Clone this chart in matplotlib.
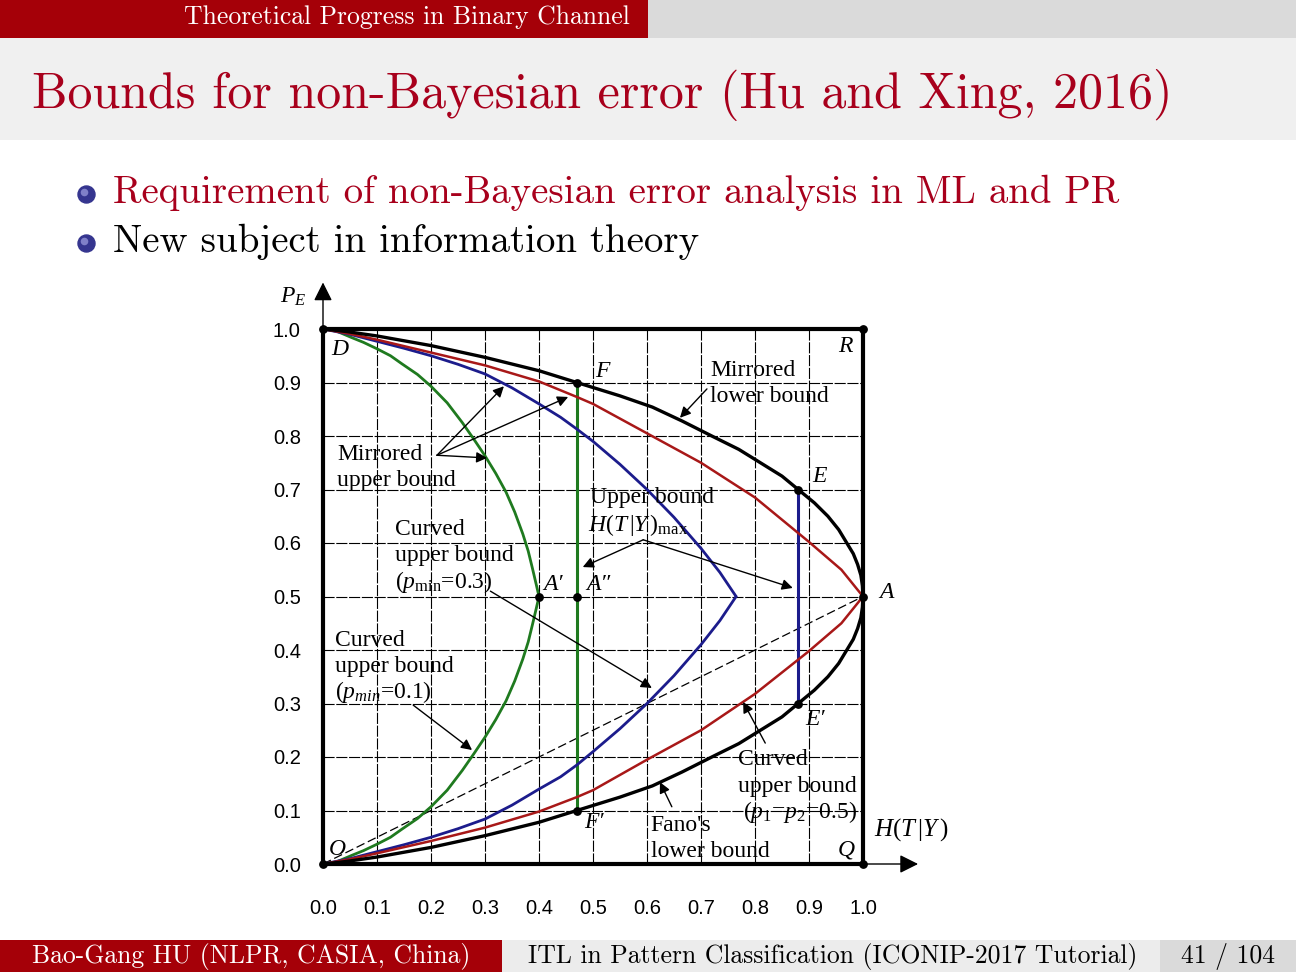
import numpy as np
import matplotlib.pyplot as plt
from matplotlib.patches import Rectangle

plt.rcParams['mathtext.fontset'] = 'custom'
plt.rcParams['mathtext.rm'] = 'Liberation Serif'
plt.rcParams['mathtext.it'] = 'Liberation Serif:italic'

# values (x = H(T|Y), y = P_E)
fano_x = [0.0, 0.02, 0.045, 0.1, 0.15, 0.2, 0.3, 0.4, 0.47, 0.55, 0.61, 0.665, 0.72, 0.77,
          0.81, 0.85, 0.88, 0.91, 0.935, 0.955, 0.97, 0.982, 0.99, 0.996, 0.999, 1.0]
fano_y = [0.0, 0.002, 0.005, 0.013, 0.022, 0.031, 0.053, 0.078, 0.1, 0.125, 0.146, 0.172, 0.2, 0.225,
          0.25, 0.275, 0.3, 0.325, 0.35, 0.375, 0.4, 0.42, 0.44, 0.46, 0.48, 0.5]
mir_low_y = [1.0, 0.998, 0.995, 0.987, 0.978, 0.969, 0.947, 0.922, 0.9, 0.875, 0.854, 0.828, 0.8, 0.775,
             0.75, 0.725, 0.7, 0.675, 0.65, 0.625, 0.6, 0.58, 0.56, 0.54, 0.52, 0.5]

red_x = [0.0, 0.05, 0.1, 0.2, 0.3, 0.4, 0.47, 0.5, 0.6, 0.7, 0.8, 0.9, 0.96, 1.0]
red_low_y = [0.0, 0.009, 0.02, 0.043, 0.068, 0.098, 0.125, 0.138, 0.195, 0.25, 0.318, 0.398, 0.45, 0.5]
red_up_y = [1.0, 0.991, 0.98, 0.956, 0.932, 0.902, 0.873, 0.86, 0.805, 0.75, 0.685, 0.602, 0.55, 0.5]

blue_low_x = [0.0, 0.05, 0.1, 0.15, 0.2, 0.25, 0.3, 0.35, 0.4, 0.44, 0.47, 0.5, 0.55, 0.6, 0.65, 0.7, 0.735, 0.765]
blue_low_y = [0.0, 0.01, 0.023, 0.036, 0.05, 0.066, 0.084, 0.11, 0.14, 0.163, 0.185, 0.21, 0.253, 0.3, 0.352, 0.41, 0.455, 0.5]
blue_up_x = [0.0, 0.05, 0.1, 0.15, 0.2, 0.25, 0.3, 0.35, 0.4, 0.44, 0.47, 0.5, 0.55, 0.6, 0.65, 0.7, 0.735, 0.765]
blue_up_y = [1.0, 0.99, 0.977, 0.964, 0.95, 0.934, 0.916, 0.89, 0.86, 0.835, 0.813, 0.79, 0.747, 0.7, 0.648, 0.59, 0.545, 0.5]

green_x = [0.0, 0.025, 0.053, 0.075, 0.1, 0.125, 0.146, 0.175, 0.2, 0.23, 0.258, 0.28, 0.3,
           0.32, 0.339, 0.355, 0.37, 0.38, 0.388, 0.395, 0.4]
green_up_y = [1.0, 0.996, 0.984, 0.975, 0.963, 0.95, 0.935, 0.915, 0.893, 0.862, 0.825, 0.793, 0.763,
              0.73, 0.695, 0.658, 0.617, 0.585, 0.552, 0.522, 0.5]
green_low_y = [0.0, 0.004, 0.016, 0.025, 0.037, 0.05, 0.065, 0.085, 0.107, 0.138, 0.175, 0.207, 0.237,
               0.27, 0.305, 0.342, 0.383, 0.415, 0.448, 0.478, 0.5]

green_seg_x = [0.47, 0.47]
green_seg_y = [0.1, 0.9]
blue_seg_x = [0.88, 0.88]
blue_seg_y = [0.3, 0.7]
dash_x = [0.0, 1.0]
dash_y = [0.0, 0.5]

pt_names = ['D', 'R', 'F', 'E', 'A', 'A\u2032', 'A\u2033', 'E\u2032', 'F\u2032', 'O', 'Q']
pt_x = [0.0, 1.0, 0.47, 0.88, 1.0, 0.4, 0.47, 0.88, 0.47, 0.0, 1.0]
pt_y = [1.0, 1.0, 0.9, 0.7, 0.5, 0.5, 0.5, 0.3, 0.1, 0.0, 0.0]
lbl_x = [0.031, 0.967, 0.517, 0.92, 1.043, 0.426, 0.51, 0.911, 0.502, 0.026, 0.969]
lbl_y = [0.962, 0.967, 0.92, 0.725, 0.507, 0.522, 0.522, 0.27, 0.078, 0.027, 0.027]

ticks = [0.0, 0.1, 0.2, 0.3, 0.4, 0.5, 0.6, 0.7, 0.8, 0.9, 1.0]
tick_labels = ['0.0', '0.1', '0.2', '0.3', '0.4', '0.5', '0.6', '0.7', '0.8', '0.9', '1.0']

RED = '#a8001c'
GREEN = '#1f7a1f'
BLUE = '#1c1c8c'
CRED = '#a81818'

fig = plt.figure(figsize=(12.96, 9.72), dpi=100)

# slide decoration in pixel coordinates
bg = fig.add_axes([0, 0, 1, 1])
bg.set_xlim(0, 1296)
bg.set_ylim(972, 0)
bg.axis('off')
bg.add_patch(Rectangle((0, 0), 1296, 140, color='#f0f0f0', lw=0))
bg.add_patch(Rectangle((648, 0), 648, 38, color='#dadada', lw=0))
bg.add_patch(Rectangle((0, 0), 648, 38, color='#a50008', lw=0))
bg.add_patch(Rectangle((0, 940), 502, 32, color='#a50008', lw=0))
bg.add_patch(Rectangle((502, 940), 658, 32, color='#ececec', lw=0))
bg.add_patch(Rectangle((1160, 940), 136, 32, color='#dadada', lw=0))

slide_font = 'cmr10'
bg.text(630, 17, 'Theoretical Progress in Binary Channel', color='white',
        family=slide_font, fontsize=18.5, ha='right', va='center')
bg.text(32, 95, 'Bounds for non-Bayesian error (Hu and Xing, 2016)', color=RED,
        family=slide_font, fontsize=36, ha='left', va='center')
bg.scatter([86, 86], [194, 243], s=150, color='#35358f', zorder=3)
bg.scatter([84, 84], [192, 241], s=30, color='#8080c8', zorder=4, lw=0)
bg.text(113, 193, 'Requirement of non-Bayesian error analysis in ML and PR', color=RED,
        family=slide_font, fontsize=28, ha='left', va='center')
bg.text(113, 242, 'New subject in information theory', color='black',
        family=slide_font, fontsize=28, ha='left', va='center')
bg.text(32, 956, 'Bao-Gang HU (NLPR, CASIA, China)', color='white',
        family=slide_font, fontsize=18.5, ha='left', va='center')
bg.text(528, 956, 'ITL in Pattern Classification (ICONIP-2017 Tutorial)', color='black',
        family=slide_font, fontsize=18.5, ha='left', va='center')
bg.text(1275, 956, '41 / 104', color='black',
        family=slide_font, fontsize=18.5, ha='right', va='center')

# chart
ax = fig.add_axes([323 / 1296, 1 - 864 / 972, 540 / 1296, 535 / 972])
ax.set_facecolor('none')
ax.set_xlim(0, 1)
ax.set_ylim(0, 1)
ax.set_xticks(ticks)
ax.set_xticklabels(tick_labels)
ax.set_yticks(ticks)
ax.set_yticklabels(tick_labels)
ax.tick_params(length=0, labelsize=14.5)
ax.tick_params(axis='x', pad=25)
ax.tick_params(axis='y', pad=16)
for lab in ax.get_xticklabels() + ax.get_yticklabels():
    lab.set_family('Liberation Sans')
ax.grid(True, color='black', lw=0.8, ls=(0, (10, 1.5)))
ax.set_axisbelow(True)
for sp in ax.spines.values():
    sp.set_linewidth(3)

kw = dict(clip_on=False, solid_capstyle='round', solid_joinstyle='round')
ax.plot(dash_x, dash_y, color='black', lw=0.9, ls=(0, (7, 3)), clip_on=False)
ax.plot(green_x, green_up_y, color=GREEN, lw=2, **kw)
ax.plot(green_x, green_low_y, color=GREEN, lw=2, **kw)
ax.plot(green_seg_x, green_seg_y, color=GREEN, lw=2.2, **kw)
ax.plot(blue_up_x, blue_up_y, color=BLUE, lw=2, **kw)
ax.plot(blue_low_x, blue_low_y, color=BLUE, lw=2, **kw)
ax.plot(blue_seg_x, blue_seg_y, color=BLUE, lw=2.2, **kw)
ax.plot(red_x, red_up_y, color=CRED, lw=1.8, **kw)
ax.plot(red_x, red_low_y, color=CRED, lw=1.8, **kw)
ax.plot(fano_x, fano_y, color='black', lw=2.4, **kw)
ax.plot(fano_x, mir_low_y, color='black', lw=2.4, **kw)
ax.scatter(pt_x, pt_y, s=28, color='black', zorder=5, clip_on=False)

serif = ['Liberation Serif', 'DejaVu Serif']
for name, x, y in zip(pt_names, lbl_x, lbl_y):
    ax.text(x, y, name, family=serif, style='italic', fontsize=17,
            ha='center', va='center')

# axis arrows
arr = dict(arrowstyle='-|>', color='black', lw=1, mutation_scale=28, shrinkA=0, shrinkB=0)
ax.annotate('', xy=(0, 1.087), xytext=(0, 1.0), arrowprops=arr, annotation_clip=False)
ax.annotate('', xy=(1.102, 0), xytext=(1.0, 0), arrowprops=arr, annotation_clip=False)
ax.text(-0.08, 1.062, r'$P_{E}$', fontsize=17, ha='left', va='center')
ax.text(1.02, 0.064, r'$H(T\,|Y\,)$', fontsize=18, ha='left', va='center')

# annotations: one text per line, placed on its baseline
tkw = dict(family=serif, fontsize=17, ha='left', va='baseline')
ann = dict(arrowstyle='-|>', color='black', lw=1, mutation_scale=16, shrinkA=0, shrinkB=0)

ax.text(0.717, 0.912, 'Mirrored', **tkw)
ax.text(0.717, 0.864, 'lower bound', **tkw)
ax.annotate('', xy=(0.661, 0.834), xytext=(0.711, 0.888), arrowprops=ann)

ax.text(0.026, 0.755, 'Mirrored', **tkw)
ax.text(0.026, 0.707, 'upper bound', **tkw)
for tip in [(0.335, 0.893), (0.454, 0.873), (0.304, 0.759)]:
    ax.annotate('', xy=tip, xytext=(0.211, 0.764), arrowprops=ann)

ax.text(0.133, 0.615, 'Curved', **tkw)
ax.text(0.133, 0.566, 'upper bound', **tkw)
ax.text(0.133, 0.516, r'($p_{\mathrm{min}}$=0.3)', **tkw)
ax.annotate('', xy=(0.609, 0.329), xytext=(0.31, 0.51), arrowprops=ann)

ax.text(0.494, 0.675, 'Upper bound', **tkw)
ax.text(0.49, 0.622, r'$H(T\,|Y\,)_{\mathrm{max}}$', **tkw)
ax.annotate('', xy=(0.481, 0.555), xytext=(0.593, 0.606), arrowprops=ann)
ax.annotate('', xy=(0.87, 0.516), xytext=(0.593, 0.606), arrowprops=ann)

ax.text(0.022, 0.407, 'Curved', **tkw)
ax.text(0.022, 0.359, 'upper bound', **tkw)
ax.text(0.022, 0.31, r'($p_{min}$=0.1)', **tkw)
ax.annotate('', xy=(0.276, 0.213), xytext=(0.167, 0.297), arrowprops=ann)

ax.text(0.769, 0.185, 'Curved', **tkw)
ax.text(0.769, 0.135, 'upper bound', **tkw)
ax.text(0.778, 0.086, r'($p_1$=$p_2$=0.5)', **tkw)
ax.annotate('', xy=(0.778, 0.303), xytext=(0.819, 0.226), arrowprops=ann)

ax.text(0.607, 0.062, "Fano's", **tkw)
ax.text(0.607, 0.013, 'lower bound', **tkw)
ax.annotate('', xy=(0.624, 0.153), xytext=(0.646, 0.107), arrowprops=ann)

fig.savefig('out.png', dpi=100)
